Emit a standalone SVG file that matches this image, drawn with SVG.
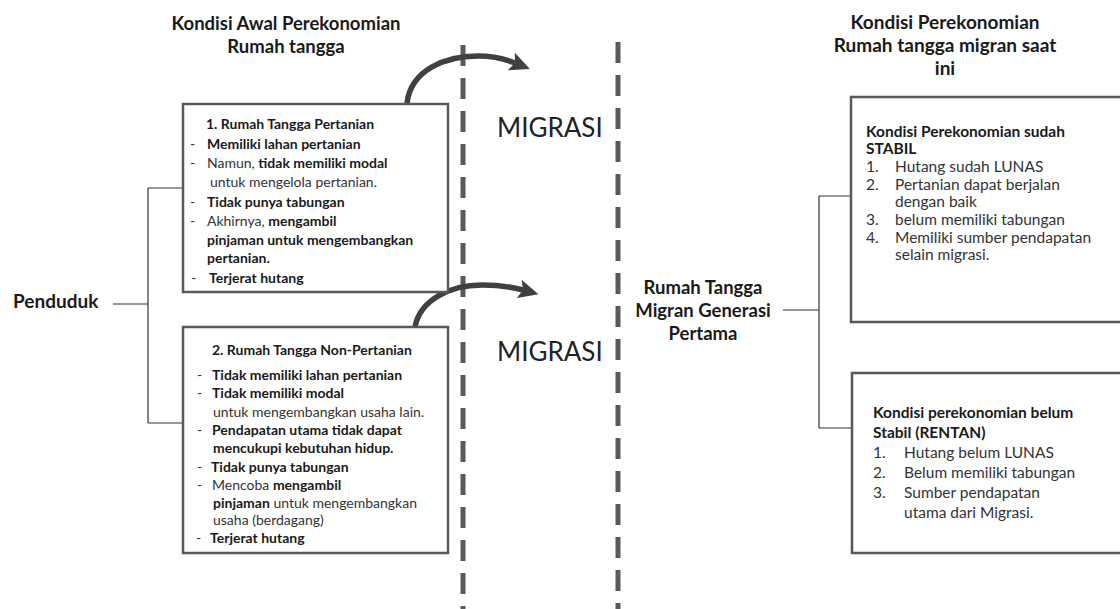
<svg xmlns="http://www.w3.org/2000/svg" width="1120" height="609" viewBox="0 0 1120 609">
<style>
text{font-family:Lato,"Liberation Sans",sans-serif;fill:#333}
.b{font-weight:bold;fill:#1a1a1a}
.h{font-size:18.5px;font-weight:bold;fill:#1a1a1a}
.hr{font-size:19px}
.t{font-size:14px}
.r{font-size:15.5px}
.mig{font-size:26px;fill:#222}
.box{fill:#fff;stroke:#595959;stroke-width:2.5}
.ln{fill:none;stroke:#333;stroke-width:1.2}
.sep{fill:none;stroke:#595959;stroke-width:5;stroke-dasharray:21 12}
.arr{fill:none;stroke:#404040;stroke-width:5.5;marker-end:url(#ah)}
</style>
<defs>
<marker id="ah" viewBox="0 0 20 19" markerWidth="20" markerHeight="19" refX="4" refY="9.5" markerUnits="userSpaceOnUse" orient="auto">
<path d="M0,0 L20,9.5 L0,19 L4,9.5 z" fill="#404040"/>
</marker>
</defs>
<rect width="1120" height="609" fill="#fff"/>

<g id="separators">
<line class="sep" x1="463" y1="45" x2="463" y2="609"/>
<line class="sep" x1="618" y1="42" x2="618" y2="609"/>
</g>

<g id="connectors">
<path class="ln" d="M113,304 H148 M148,188 V423 M148,188 H183 M148,423 H184"/>
<path class="ln" d="M783,310 H819 M819,196 V428 M819,196 H851 M819,428 H852"/>
<path class="arr" d="M407,103 C411,70 445,56 478,56 C495,56 505,59 515,63"/>
<path class="arr" d="M415,327 C420,300 450,285 482,285 C500,285 512,287 523,290"/>
</g>

<g id="header-left">
<text class="h" x="286" y="30" text-anchor="middle">Kondisi Awal Perekonomian</text>
<text class="h" x="286" y="53" text-anchor="middle">Rumah tangga</text>
</g>

<g id="header-right">
<text class="h hr" x="945" y="29" text-anchor="middle">Kondisi Perekonomian</text>
<text class="h hr" x="945" y="52" text-anchor="middle">Rumah tangga migran saat</text>
<text class="h hr" x="945" y="75" text-anchor="middle">ini</text>
</g>

<g id="penduduk">
<text class="b" x="13" y="308" font-size="19">Penduduk</text>
</g>

<g id="rt-pertanian">
<rect class="box" x="183" y="104" width="265" height="188"/>
<text class="t b" x="206" y="129">1. Rumah  Tangga Pertanian</text>
<text class="t" x="190" y="149">-</text><text class="t b" x="207" y="149">Memiliki lahan pertanian</text>
<text class="t" x="190" y="168">-</text><text class="t" x="207" y="168">Namun, <tspan class="b">tidak memiliki modal</tspan></text>
<text class="t" x="210" y="187">untuk mengelola pertanian.</text>
<text class="t" x="190" y="207">-</text><text class="t b" x="207" y="207">Tidak punya tabungan</text>
<text class="t" x="190" y="226">-</text><text class="t" x="207" y="226">Akhirnya, <tspan class="b">mengambil</tspan></text>
<text class="t b" x="207" y="245">pinjaman untuk mengembangkan</text>
<text class="t b" x="207" y="263">pertanian.</text>
<text class="t" x="191" y="283">-</text><text class="t b" x="209" y="283">Terjerat hutang</text>
</g>

<g id="rt-non-pertanian">
<rect class="box" x="183" y="327" width="265" height="226"/>
<text class="t b" x="212" y="355">2. Rumah  Tangga  Non-Pertanian</text>
<text class="t" x="197" y="380">-</text><text class="t b" x="212" y="380">Tidak memiliki lahan pertanian</text>
<text class="t" x="197" y="398">-</text><text class="t b" x="212" y="398">Tidak memiliki modal</text>
<text class="t" x="213" y="417">untuk mengembangkan usaha lain.</text>
<text class="t" x="197" y="435">-</text><text class="t b" x="212" y="435">Pendapatan utama tidak dapat</text>
<text class="t b" x="213" y="453">mencukupi kebutuhan hidup.</text>
<text class="t" x="197" y="472">-</text><text class="t b" x="211" y="472">Tidak punya tabungan</text>
<text class="t" x="197" y="490">-</text><text class="t" x="212" y="490">Mencoba <tspan class="b">mengambil</tspan></text>
<text class="t" x="213" y="508"><tspan class="b">pinjaman</tspan> untuk mengembangkan</text>
<text class="t" x="213" y="525">usaha (berdagang)</text>
<text class="t" x="196" y="543">-</text><text class="t b" x="210" y="543">Terjerat hutang</text>
</g>

<g id="migrasi-1">
<text class="mig" x="497" y="137">MIGRASI</text>
</g>
<g id="migrasi-2">
<text class="mig" x="497" y="361">MIGRASI</text>
</g>

<g id="rt-migran">
<text class="b" x="703" y="294" font-size="18.5" text-anchor="middle">Rumah Tangga</text>
<text class="b" x="703" y="317" font-size="18.5" text-anchor="middle">Migran Generasi</text>
<text class="b" x="703" y="340" font-size="18.5" text-anchor="middle">Pertama</text>
</g>

<g id="stabil">
<rect class="box" x="851" y="97" width="280" height="225"/>
<text class="r b" x="866" y="137">Kondisi Perekonomian sudah</text>
<text class="r b" x="866" y="154">STABIL</text>
<text class="r" x="866" y="172">1.</text><text class="r" x="895" y="172">Hutang sudah LUNAS</text>
<text class="r" x="866" y="190">2.</text><text class="r" x="895" y="190">Pertanian dapat berjalan</text>
<text class="r" x="895" y="207">dengan baik</text>
<text class="r" x="866" y="225">3.</text><text class="r" x="895" y="225">belum memiliki tabungan</text>
<text class="r" x="866" y="243">4.</text><text class="r" x="895" y="243">Memiliki sumber pendapatan</text>
<text class="r" x="895" y="260">selain migrasi.</text>
</g>

<g id="rentan">
<rect class="box" x="852" y="373" width="280" height="180"/>
<text class="r b" x="873" y="418">Kondisi perekonomian belum</text>
<text class="r b" x="873" y="438">Stabil (RENTAN)</text>
<text class="r" x="873" y="458">1.</text><text class="r" x="904" y="458">Hutang belum LUNAS</text>
<text class="r" x="873" y="478">2.</text><text class="r" x="904" y="478">Belum memiliki tabungan</text>
<text class="r" x="873" y="498">3.</text><text class="r" x="904" y="498">Sumber pendapatan</text>
<text class="r" x="904" y="518">utama dari Migrasi.</text>
</g>
</svg>
